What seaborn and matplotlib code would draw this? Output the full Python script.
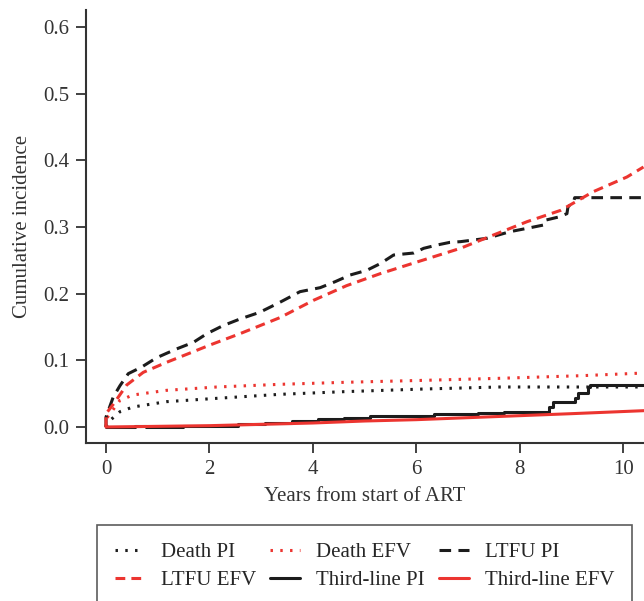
import matplotlib
matplotlib.use("Agg")
import matplotlib.pyplot as plt
import seaborn as sns
import pandas as pd

# -------------------------------------------------
# DATA
# -------------------------------------------------

death_pi_t = [0.0, 0.08, 0.27, 0.52, 1.17, 2.14, 3.36, 4.6, 6.15, 7.6, 8.7, 10.4]
death_pi_y = [0.0, 0.010, 0.023, 0.030, 0.038, 0.043, 0.049, 0.053, 0.057, 0.060, 0.060, 0.060]

death_efv_t = [0.0, 0.0, 0.08, 0.27, 0.52, 1.17, 2.14, 3.36, 4.6, 6.15, 7.6, 9.2, 10.4]
death_efv_y = [0.0, 0.012, 0.020, 0.040, 0.048, 0.055, 0.060, 0.064, 0.067, 0.070, 0.073, 0.077, 0.081]

ltfu_pi_t = [0.0, 0.0, 0.14, 0.27, 0.43, 0.69, 0.98, 1.36, 1.69, 1.95, 2.26, 2.59, 2.97,
             3.36, 3.75, 4.14, 4.43, 4.72, 5.04, 5.30, 5.56, 5.95, 6.14, 6.40, 6.65,
             6.85, 7.36, 7.81, 8.14, 8.46, 8.48, 8.75, 8.91, 8.93, 9.04, 9.06, 10.4]
ltfu_pi_y = [0.0, 0.015, 0.045, 0.062, 0.080, 0.090, 0.104, 0.117, 0.127, 0.140, 0.152,
             0.162, 0.172, 0.187, 0.203, 0.209, 0.218, 0.228, 0.235, 0.245, 0.258, 0.261,
             0.268, 0.273, 0.277, 0.278, 0.283, 0.293, 0.298, 0.303, 0.310, 0.315, 0.320,
             0.330, 0.338, 0.344, 0.344]

ltfu_efv_t = [0.0, 0.0, 0.14, 0.40, 0.72, 1.17, 1.56, 2.01, 2.59, 3.36, 4.01, 4.65,
              5.30, 5.95, 6.85, 7.49, 8.14, 8.79, 9.42, 10.07, 10.39]
ltfu_efv_y = [0.0, 0.020, 0.034, 0.063, 0.082, 0.097, 0.109, 0.123, 0.140, 0.164, 0.190,
              0.212, 0.230, 0.246, 0.268, 0.288, 0.308, 0.325, 0.353, 0.375, 0.390]

third_pi_t = [0.0, 0.56, 0.77, 1.49, 2.11, 2.56, 3.08, 3.59, 4.10, 4.60, 5.10, 6.35, 7.20,
              7.70, 8.56, 8.65, 9.07, 9.12, 9.31, 9.36, 10.4]
third_pi_y = [0.0, 0.001, 0.0, 0.001, 0.002, 0.004, 0.006, 0.009, 0.012, 0.014, 0.016,
              0.019, 0.021, 0.022, 0.0295, 0.038, 0.043, 0.0505, 0.0605, 0.063, 0.063]

third_efv_t = [0.0, 1.0, 2.0, 3.0, 4.0, 5.0, 6.0, 7.0, 8.0, 9.0, 10.4]
third_efv_y = [0.0, 0.001, 0.002, 0.004, 0.006, 0.009, 0.011, 0.014, 0.017, 0.020, 0.0245]

x_ticks = [0, 2, 4, 6, 8, 10]
y_ticks = [0.0, 0.1, 0.2, 0.3, 0.4, 0.5, 0.6]

BLACK = "#1c1c1c"
RED = "#ec3530"

# -------------------------------------------------
# PLOT
# -------------------------------------------------

sns.set_style("ticks")
plt.rcParams["font.family"] = ["Liberation Serif", "DejaVu Serif"]

fig = plt.figure(figsize=(6.44, 6.01), dpi=100)
ax = fig.add_axes([86 / 644, 158 / 601, 558 / 644, 433 / 601])


def draw(t, y, label, color, ls, steps=False):
    df = pd.DataFrame({"t": t, "y": y})
    sns.lineplot(data=df, x="t", y="y", ax=ax, color=color, linestyle=ls,
                 linewidth=2.2, sort=False, estimator=None, label=label,
                 drawstyle="steps-post" if steps else "default")


draw(death_pi_t, death_pi_y, "Death PI", BLACK, (0, (0.8, 2.4)))
draw(death_efv_t, death_efv_y, "Death EFV", RED, (0, (0.8, 2.4)))
draw(ltfu_pi_t, ltfu_pi_y, "LTFU PI", BLACK, (0, (3.8, 2.4)))
draw(ltfu_efv_t, ltfu_efv_y, "LTFU EFV", RED, (0, (3.2, 2.0)))
draw(third_pi_t, third_pi_y, "Third-line PI", BLACK, "-", steps=True)
draw(third_efv_t, third_efv_y, "Third-line EFV", RED, "-")

ax.set_xlim(-0.387, 10.4)
ax.set_ylim(-0.024, 0.6255)
ax.set_xticks(x_ticks)
ax.set_xticklabels([str(v) for v in x_ticks])
ax.set_yticks(y_ticks)
ax.set_yticklabels([f"{v:.1f}" for v in y_ticks])
ax.tick_params(axis="both", labelsize=15, length=7, width=1.3, color="#333333",
               labelcolor="#333333", pad=5)
ax.set_xlabel("Years from start of ART", fontsize=15, color="#333333", labelpad=6)
ax.set_ylabel("Cumulative incidence", fontsize=15, color="#333333", labelpad=8)

for side in ["top", "right"]:
    ax.spines[side].set_visible(False)
for side in ["left", "bottom"]:
    ax.spines[side].set_linewidth(1.5)
    ax.spines[side].set_color("#333333")

handles, labels = ax.get_legend_handles_labels()
order = [0, 3, 1, 4, 2, 5]
leg = ax.legend([handles[i] for i in order], [labels[i] for i in order],
                ncol=3, loc="upper left", bbox_to_anchor=(97 / 644, 1 - 525 / 601),
                bbox_transform=fig.transFigure, fontsize=15, frameon=True,
                fancybox=False, edgecolor="#333333", handlelength=1.4,
                handletextpad=0.8, columnspacing=0.7, borderpad=0.85,
                labelspacing=0.4, borderaxespad=0)
leg.get_frame().set_linewidth(1.2)

plt.savefig("out.png", dpi=100)
plt.close()
